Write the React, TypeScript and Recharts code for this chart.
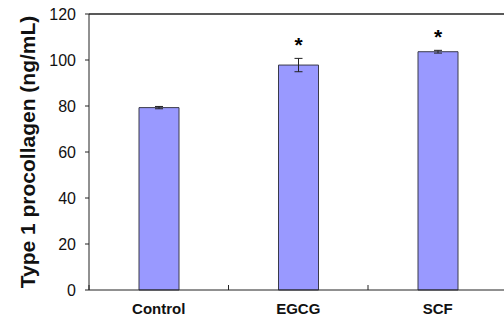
import React from "react";
import { BarChart, Bar, XAxis, YAxis, ErrorBar, LabelList } from "recharts";

const categories = ["Control", "EGCG", "SCF"];
const values = [79.3, 97.8, 103.6];
const errors = [0.5, 2.9, 0.6];
const significance = ["", "*", "*"];
const yTicks = [0, 20, 40, 60, 80, 100, 120];

const data = categories.map((name, i) => ({
  name,
  value: values[i],
  err: errors[i],
  sig: significance[i],
}));

const FONT = "'Liberation Sans', Arial, sans-serif";
const AXIS = "#222";
const CHART_W = 518;
const Y_TICK_SIZE = 4;
const Y_TICK_MARGIN = 9;

const XTick = (props: any) => {
  const { x, y, payload } = props;
  const half = payload && payload.offset ? payload.offset : 0;
  const axisY = y - 8;
  return (
    <g>
      <line x1={x - half} x2={x - half} y1={axisY} y2={axisY - 5} stroke={AXIS} strokeWidth={1} />
      <text
        x={x}
        y={axisY + 24}
        textAnchor="middle"
        fontFamily={FONT}
        fontWeight="bold"
        fontSize={15}
        fill="#111"
      >
        {payload.value}
      </text>
    </g>
  );
};

// y tick label; the top tick also draws the plot box's top edge from the axis line
const YTick = (props: any) => {
  const { x, y, payload } = props;
  const axisX = x + Y_TICK_SIZE + Y_TICK_MARGIN;
  const isTop = Number(payload.value) === yTicks[yTicks.length - 1];
  return (
    <g>
      {isTop && (
        <path
          d={`M${axisX},${y}H${CHART_W}`}
          style={{ stroke: "#222", strokeWidth: 1.4, fill: "none" }}
        />
      )}
      <text
        x={x}
        y={y}
        dy="0.355em"
        textAnchor="end"
        fontFamily={FONT}
        fontSize={16}
        fill="#111"
      >
        {payload.value}
      </text>
    </g>
  );
};

const StarLabel = (props: any) => {
  const { x, y, width, height, index, value } = props;
  if (!value) return null;
  const pxPerUnit = height / values[index];
  const errTop = y - errors[index] * pxPerUnit;
  return (
    <text
      x={x + width / 2}
      y={errTop - 14}
      textAnchor="middle"
      dominantBaseline="central"
      fontFamily={FONT}
      fontWeight="bold"
      fontSize={21}
      fill="#000"
    >
      {value}
    </text>
  );
};

const YLabel = (props: any) => {
  const vb = props.viewBox || {};
  const cy = vb.y + vb.height / 2;
  const cx = 27;
  return (
    <text
      x={cx}
      y={cy}
      transform={`rotate(-90, ${cx}, ${cy})`}
      textAnchor="middle"
      dominantBaseline="central"
      fontFamily={FONT}
      fontWeight="bold"
      fontSize={21}
      fill="#111"
    >
      Type 1 procollagen (ng/mL)
    </text>
  );
};

export default function App() {
  return (
    <div
      style={{
        position: "absolute",
        left: 0,
        top: 0,
        width: 504,
        height: 321,
        overflow: "hidden",
        background: "#fff",
      }}
    >
      <BarChart
        width={CHART_W}
        height={321}
        data={data}
        margin={{ top: 14, right: 10.5, left: 0, bottom: 0 }}
        barCategoryGap={0}
      >
        <XAxis
          dataKey="name"
          axisLine={{ stroke: AXIS }}
          tickLine={false}
          tick={<XTick />}
          height={31}
          interval={0}
        />
        <YAxis
          domain={[0, 120]}
          ticks={yTicks}
          width={89}
          axisLine={{ stroke: AXIS }}
          tickLine={{ stroke: AXIS }}
          tickSize={Y_TICK_SIZE}
          tickMargin={Y_TICK_MARGIN}
          tick={<YTick />}
          label={<YLabel />}
          interval={0}
        />
        <Bar
          dataKey="value"
          fill="#9999FF"
          stroke="#3a3a4a"
          strokeWidth={1}
          barSize={40}
          isAnimationActive={false}
        >
          <ErrorBar dataKey="err" width={4} stroke="#222" strokeWidth={1} direction="y" />
          <LabelList dataKey="sig" content={<StarLabel />} />
        </Bar>
      </BarChart>
    </div>
  );
}
